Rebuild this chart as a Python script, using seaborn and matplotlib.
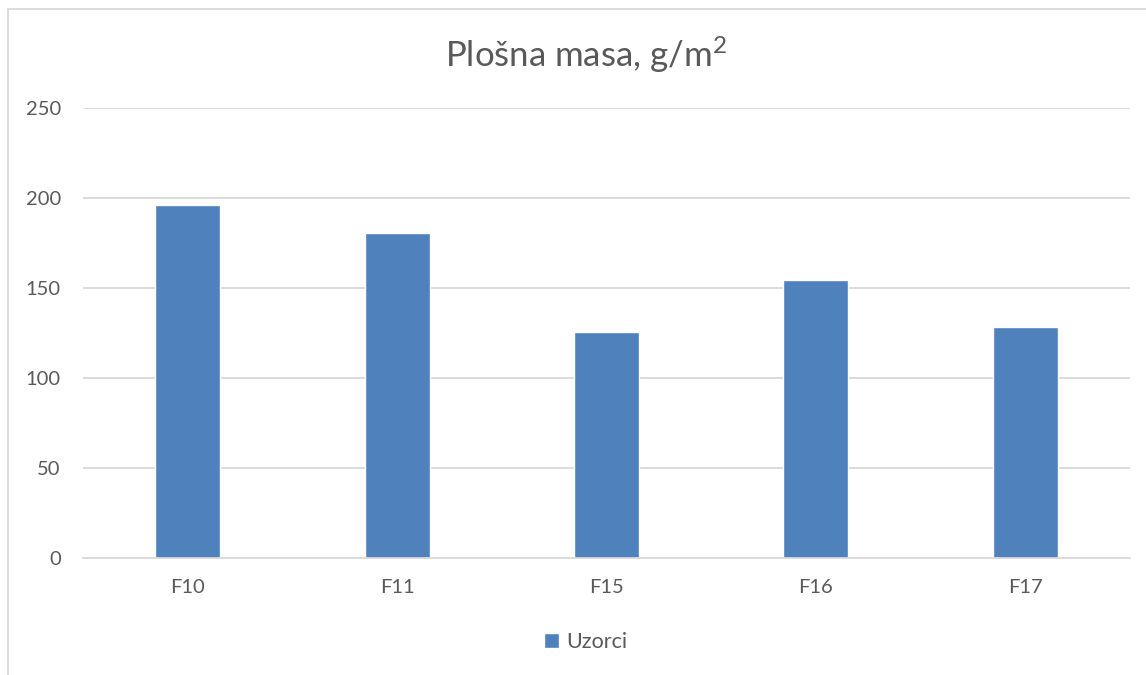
import matplotlib
matplotlib.use("Agg")
import matplotlib.pyplot as plt
import seaborn as sns
import pandas as pd
from matplotlib.patches import Rectangle

categories = ["F10", "F11", "F15", "F16", "F17"]
values = [196, 180.5, 125.5, 154.5, 128.5]
series_name = "Uzorci"
yticks = [0, 50, 100, 150, 200, 250]

sns.set_theme(style="white")
plt.rcParams['font.family'] = ['Lato', 'DejaVu Sans']
plt.rcParams['mathtext.fontset'] = 'custom'
plt.rcParams['mathtext.rm'] = 'Lato'
plt.rcParams['mathtext.it'] = 'Lato:italic'

df = pd.DataFrame({"cat": categories, "val": values, "series": series_name})

fig = plt.figure(figsize=(11.46, 6.75), dpi=100)
ax = fig.add_axes([83/1146, 1 - 558/675, (1130-83)/1146, (558-108)/675])

sns.barplot(data=df, x="cat", y="val", hue="series", palette=["#4F81BD"],
            width=0.31, ax=ax, saturation=1, legend=True)

ax.set_ylim(0, 250)
ax.set_yticks(yticks)
ax.set_xlim(-0.5, 4.5)
ax.yaxis.grid(True, color="#D9D9D9", linewidth=1.3)
ax.set_axisbelow(True)
for s in ["top", "right", "left"]:
    ax.spines[s].set_visible(False)
ax.spines["bottom"].set_color("#D9D9D9")
ax.spines["bottom"].set_linewidth(1.3)
ax.tick_params(axis="y", length=0, pad=16, labelsize=14.5, labelcolor="#595959")
ax.tick_params(axis="x", length=0, pad=15, labelsize=14.5, labelcolor="#595959")
ax.set_xlabel("")
ax.set_ylabel("")

fig.text(0.511, 1 - 55/675, "Plošna masa, g/m$^2$", ha="center", va="center",
         fontsize=25, color="#595959")

leg = ax.legend(loc="center", bbox_to_anchor=(0.511, 1 - 642/675),
                bbox_transform=fig.transFigure, frameon=False,
                handlelength=0.7, handleheight=0.7, handletextpad=0.3,
                fontsize=15.5)
for t in leg.get_texts():
    t.set_color("#595959")

border = Rectangle((7.5/1146, -0.05), 1.1, 1 - 9/675 + 0.05, transform=fig.transFigure,
                   fill=False, edgecolor="#D9D9D9", linewidth=1.3, clip_on=False)
fig.patches.append(border)

fig.savefig("out.png", dpi=100, facecolor="white")
